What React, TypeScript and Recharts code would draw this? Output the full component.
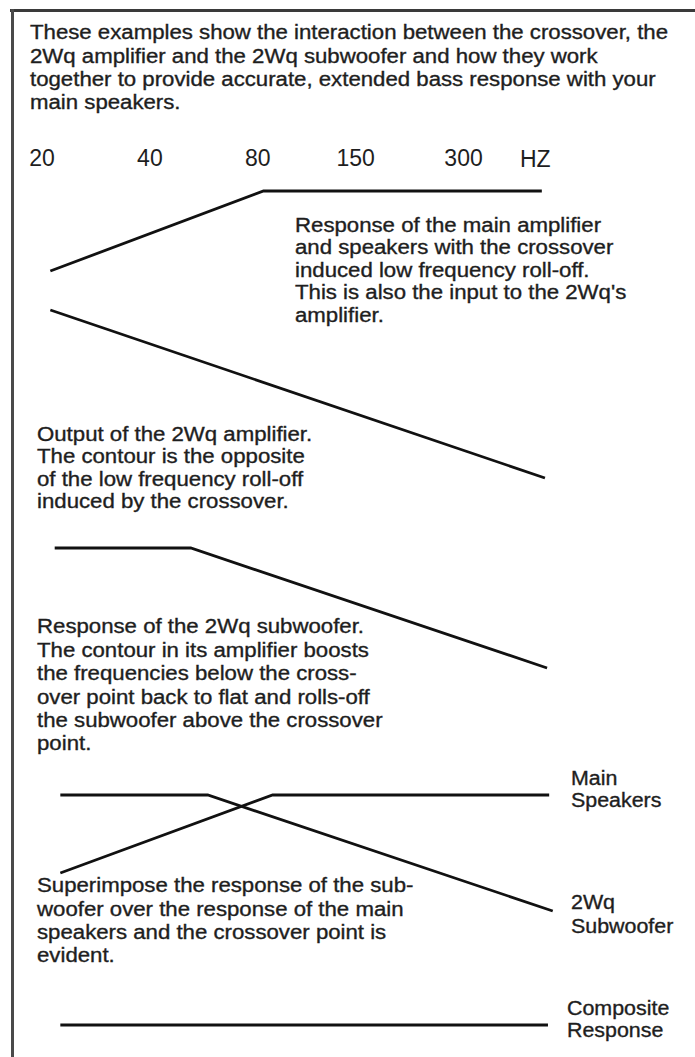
import { LineChart, Line, XAxis, YAxis } from 'recharts';

// frequency axis (Hz), shared by every panel
const FREQ_TICKS = [20, 40, 80, 150, 300];
const FREQ_DOMAIN = [20, 640];

// panel 1: main amp + speakers with crossover roll-off
const mainAmpFreq = [21.1, 83, 496];
const mainAmpDb = [-20, 0, 0];

// panel 2: 2Wq amplifier output (inverse contour)
const ampOutFreq = [21.1, 506];
const ampOutDb = [20, -22];

// panel 3: 2Wq subwoofer response
const subFreq = [21.7, 52, 513];
const subDb = [0, 0, -30];

// panel 4: superimposed
const superMainFreq = [22.5, 88, 520];
const superMainDb = [-19.5, 0, 0];
const superSubFreq = [22.5, 58, 532];
const superSubDb = [0, 0, -29];

// panel 5: composite
const compositeFreq = [22.5, 516];
const compositeDb = [0, 0];

const headerLines = [
  'These examples show the interaction between the crossover, the',
  '2Wq amplifier and the 2Wq subwoofer and how they work',
  'together to provide accurate, extended bass response with your',
  'main speakers.',
];
const mainRespLines = [
  'Response of the main amplifier',
  'and speakers with the crossover',
  'induced low frequency roll-off.',
  "This is also the input to the 2Wq's",
  'amplifier.',
];
const ampOutLines = [
  'Output of the 2Wq amplifier.',
  'The contour is the opposite',
  'of the low frequency roll-off',
  'induced by the crossover.',
];
const subRespLines = [
  'Response of the 2Wq subwoofer.',
  'The contour in its amplifier boosts',
  'the frequencies below the cross-',
  'over point back to flat and rolls-off',
  'the subwoofer above the crossover',
  'point.',
];
const superLines = [
  'Superimpose the response of the sub-',
  'woofer over the response of the main',
  'speakers and the crossover point is',
  'evident.',
];

const FONT = '"Liberation Sans", Arial, Helvetica, sans-serif';
const INK = '#1e1e1e';
const LINE = '#111';
const PX_PER_DB = 4;
const CHART_W = 600;
const MARGIN_X = { left: 42, right: 18.5 };
const PAD = 6;

const zip = (f: number[], db: number[]) => f.map((v, i) => ({ f: v, db: db[i] }));

// the scan's lettering is a touch wide, hence the horizontal stretch
function TextBlock({ lines, left, baseline, size = 20, lh = 23, sx = 1.11 }: {
  lines: string[]; left: number; baseline: number; size?: number; lh?: number; sx?: number;
}) {
  const top = baseline - (lh - size * 1.117) / 2 - size * 0.905;
  return (
    <div
      style={{
        position: 'absolute',
        left,
        top,
        fontSize: size,
        lineHeight: `${lh}px`,
        whiteSpace: 'pre',
        color: INK,
        WebkitTextStroke: `0.35px ${INK}`,
        transform: `scaleX(${sx})`,
        transformOrigin: 'left top',
      }}
    >
      {lines.map((l) => <div key={l}>{l}</div>)}
    </div>
  );
}

// one response panel; 0 dB sits at page y `zeroY`
function Panel({ zeroY, dbMax, dbMin, series, withAxis = false }: {
  zeroY: number; dbMax: number; dbMin: number;
  series: { f: number; db: number }[][]; withAxis?: boolean;
}) {
  const plotH = (dbMax - dbMin) * PX_PER_DB;
  const plotTop = zeroY - dbMax * PX_PER_DB;
  const axisH = withAxis ? 50 : 0;
  const top = plotTop - PAD - axisH;
  return (
    <div style={{ position: 'absolute', left: 0, top }}>
      <LineChart
        width={CHART_W}
        height={plotH + PAD * 2 + axisH}
        margin={{ top: PAD, bottom: PAD, ...MARGIN_X }}
      >
        <XAxis
          type="number"
          dataKey="f"
          scale="log"
          domain={FREQ_DOMAIN}
          ticks={FREQ_TICKS}
          orientation="top"
          hide={!withAxis}
          height={axisH}
          axisLine={false}
          tickLine={false}
          tickSize={0}
          tickMargin={17}
          interval={0}
          tick={{ fill: INK, fontSize: 23, fontFamily: FONT }}
        />
        <YAxis type="number" domain={[dbMin, dbMax]} hide />
        {series.map((d, i) => (
          <Line
            key={i}
            data={d}
            dataKey="db"
            type="linear"
            stroke={LINE}
            strokeWidth={2.8}
            dot={false}
            isAnimationActive={false}
          />
        ))}
      </LineChart>
    </div>
  );
}

export default function App() {
  return (
    <div style={{ position: 'relative', width: 695, height: 1057, background: '#fff', fontFamily: FONT, overflow: 'hidden' }}>
      <style>{'body{margin:0}'}</style>
      {/* frame */}
      <div style={{ position: 'absolute', left: 10, top: 9, width: 685, height: 3, background: '#3a3a3a' }} />
      <div style={{ position: 'absolute', left: 11, top: 9, width: 3, height: 1048, background: '#4a4a4a' }} />

      <TextBlock lines={headerLines} left={30} baseline={40} lh={23.3} />

      <Panel zeroY={191} dbMax={2} dbMin={-22} series={[zip(mainAmpFreq, mainAmpDb)]} withAxis />
      <div style={{ position: 'absolute', left: 520, top: 146, fontSize: 23, color: INK }}>HZ</div>
      <TextBlock lines={mainRespLines} left={295} baseline={232} lh={22.5} />

      <Panel zeroY={390} dbMax={22} dbMin={-24} series={[zip(ampOutFreq, ampOutDb)]} />
      <TextBlock lines={ampOutLines} left={37} baseline={441} lh={22.4} />

      <Panel zeroY={548} dbMax={2} dbMin={-32} series={[zip(subFreq, subDb)]} />
      <TextBlock lines={subRespLines} left={37} baseline={634} lh={23.4} />

      <Panel
        zeroY={795}
        dbMax={2}
        dbMin={-31}
        series={[zip(superMainFreq, superMainDb), zip(superSubFreq, superSubDb)]}
      />
      <TextBlock lines={['Main', 'Speakers']} left={571} baseline={785} lh={22.4} sx={1.07} />
      <TextBlock lines={superLines} left={37} baseline={893} lh={23.2} />
      <TextBlock lines={['2Wq', 'Subwoofer']} left={571} baseline={909} lh={24} sx={1.07} />

      <Panel zeroY={1025} dbMax={2} dbMin={-2} series={[zip(compositeFreq, compositeDb)]} />
      <TextBlock lines={['Composite', 'Response']} left={567} baseline={1015} lh={22.4} sx={1.07} />
    </div>
  );
}
